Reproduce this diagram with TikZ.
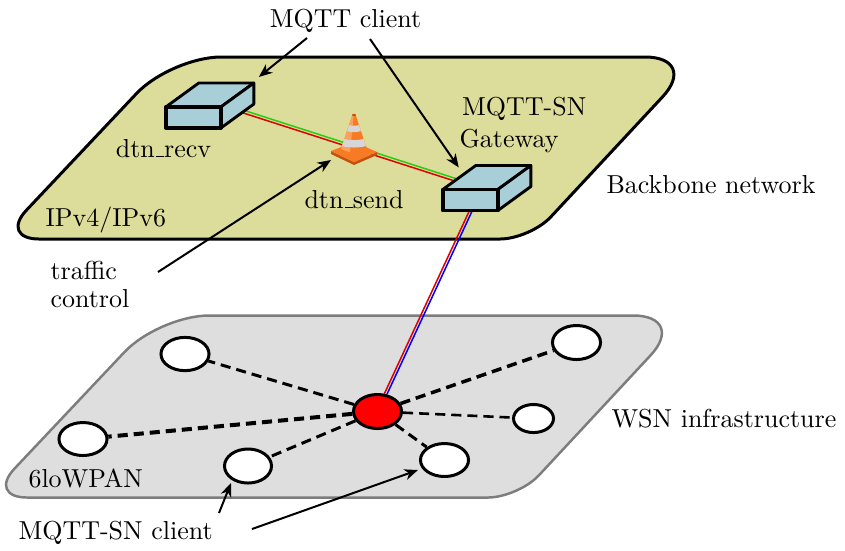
\documentclass[tikz,border=0pt]{standalone}
\usetikzlibrary{arrows.meta,calc,shapes.geometric}

\definecolor{backbone}{RGB}{221,221,155}
\definecolor{boxblue}{RGB}{168,206,215}
\definecolor{wsngray}{RGB}{222,222,222}
\definecolor{wsnedge}{RGB}{125,125,125}
\definecolor{linkgreen}{RGB}{40,205,20}
\definecolor{linkred}{RGB}{225,0,0}
\definecolor{linkblue}{RGB}{0,0,255}
\definecolor{coneorange}{RGB}{247,122,36}
\definecolor{conedark}{RGB}{196,82,14}
\definecolor{conelight}{RGB}{252,160,90}
\definecolor{conestripe}{RGB}{214,214,214}

% classic low-rule underscore
\newcommand\lowbar{\leavevmode\kern.06em\vbox{\hrule width.3em}}

% outline of a slanted network plane with rounded corners
\newcommand\planeoutline{%
  (39,239) .. controls (17,239) and (11.4,226) .. (26.6,210)
  -- (136.6,93.4) .. controls (155.5,73.4) and (193.5,57) .. (221,57)
  -- (645,57) .. controls (675.25,57) and (683,75) .. (662.3,97.1)
  -- (550.6,217.1) .. controls (539.3,229.1) and (516.5,239) .. (500,239)
  -- cycle}

\begin{document}
\begin{tikzpicture}[x=0.385pt,y=-0.385pt,
  devspace/.style={inner sep=0pt, minimum width=20.8pt, minimum height=7.7pt},
  face/.style={draw, fill=boxblue, line width=1.1pt, line join=round},
  sensor/.style={ellipse, draw, fill=white, line width=1.15pt, inner sep=0pt},
  radio/.style={line width=#1, dash pattern=on 3.9pt off 2.3pt},
  callout/.style={line width=0.77pt, -{Stealth[length=5.2pt,width=4.2pt,inset=1.6pt]}},
  txt/.style={inner sep=0pt}
]
\useasboundingbox (0,0) rectangle (845,550);

% the two network planes
\draw[fill=backbone, line width=1.15pt, line join=round] \planeoutline;
\begin{scope}[shift={(-12,258.5)}]
  \draw[fill=wsngray, draw=wsnedge, line width=0.95pt, line join=round] \planeoutline;
\end{scope}

% front faces of the two hosts (geometry only, drawn later)
\node[devspace] (recv) at (193.3,117.5) {};
\node[devspace] (gw)   at (470.3,200) {};

% sensor nodes of the 6loWPAN
\node[sensor, fill=red, minimum width=18.5pt, minimum height=13.1pt] (hub) at (377.5,411.5) {};
\node[sensor, minimum width=18.5pt, minimum height=12.8pt] (sa) at (185,354) {};
\node[sensor, minimum width=18.5pt, minimum height=12.7pt] (sb) at (83,439) {};
\node[sensor, minimum width=18.1pt, minimum height=13.1pt] (sc) at (248,466) {};
\node[sensor, minimum width=18.5pt, minimum height=13.1pt] (sd) at (576.5,342.5) {};
\node[sensor, minimum width=15.4pt, minimum height=10.8pt] (se) at (533.5,418.5) {};
\node[sensor, minimum width=18.5pt, minimum height=12.7pt] (sf) at (444.5,460) {};

% radio links
\draw[radio=1.15pt] (hub) -- (sa);
\draw[radio=1.55pt] (hub) -- (sb);
\draw[radio=1.15pt] (hub) -- (sc);
\draw[radio=1.35pt] (hub) -- (sd);
\draw[radio=1.0pt]  (hub) -- (se);
\draw[radio=1.15pt] (hub) -- (sf);

% link between dtn_recv and the gateway
\coordinate (recvport) at ($(recv.east)+(17.7,-7.5)$);
\coordinate (gwport)   at ($(gw.north west)+(18.7,-7.7)$);
\draw[linkgreen, line width=0.58pt, transform canvas={yshift=0.55pt}] (recvport) -- (gwport);
\draw[linkred,   line width=0.58pt, transform canvas={yshift=-0.55pt}] (recvport) -- (gwport);

% uplink from the gateway to the border router
\coordinate (gwdown) at ($(gw.south)+(2,-3)$);
\draw[linkred,  line width=0.58pt, transform canvas={xshift=-0.55pt}] (gwdown) -- (hub);
\draw[linkblue, line width=0.58pt, transform canvas={xshift=0.55pt}]  (gwdown) -- (hub);

% host boxes
\foreach \b in {recv,gw}{
  \draw[face] (\b.north west) -- ++(33,-24) -- ($(\b.north east)+(33,-24)$) -- (\b.north east) -- cycle;
  \draw[face] (\b.north east) -- ++(33,-24) -- ($(\b.south east)+(33,-24)$) -- (\b.south east) -- cycle;
  \draw[face, line width=1.35pt] (\b.south west) rectangle (\b.north east);
}

% traffic cone on the link
\begin{scope}[shift={(354,152)}]
  \fill[conedark] (-23,-1) -- (0,10) -- (23,0) -- (23,3) -- (0,13) -- (-23,2) -- cycle;
  \fill[coneorange] (-23,-1) -- (0,-10) -- (23,0) -- (0,10) -- cycle;
  \fill[coneorange] (-1.6,-37) -- (1.6,-37) -- (13,-3) .. controls (8,1) and (-8,1) .. (-13,-3) -- cycle;
  \fill[conelight] (-1.6,-37) -- (-0.2,-37) -- (-4,0) .. controls (-7,-0.5) and (-10,-1.5) .. (-13,-3) -- cycle;
  \fill[conestripe] (-4.9,-27) .. controls (-2,-26) and (2,-26) .. (4.9,-27) -- (6.9,-21)
     .. controls (3,-19.5) and (-3,-19.5) .. (-6.9,-21) -- cycle;
  \fill[conestripe] (-9.6,-13) .. controls (-4,-11.5) and (4,-11.5) .. (9.6,-13) -- (12,-6)
     .. controls (5,-4) and (-5,-4) .. (-12,-6) -- cycle;
  \fill[conedark] (0,-37) ellipse [x radius=2, y radius=1.2];
\end{scope}
\coordinate (cone) at (331,160);

% labels
\node[txt, anchor=base] (mqttc) at (345.5,27) {MQTT client};
\node[txt, anchor=base] (recvlbl) at (163.5,157) {dtn\lowbar recv};
\node[txt, anchor=base] (sendlbl) at (354,208) {dtn\lowbar send};
\node[txt, anchor=base west, align=left] (gwlbl) at (459,147) {\hspace{1pt}MQTT-SN\\Gateway};
\node[txt, anchor=base west] (bblbl) at (606,193) {Backbone network};
\node[txt, anchor=base west] (iplbl) at (45,226) {IPv4/IPv6};
\node[txt, anchor=base west, align=left] (tclbl) at (50,307) {traffic\\[-1.4pt]control};
\node[txt, anchor=base west] (lolbl) at (28,487) {6loWPAN};
\node[txt, anchor=base west] (wsnlbl) at (611,427) {WSN infrastructure};
\node[txt, anchor=base west] (snlbl) at (18,539) {MQTT-SN client};

% call-out arrows
\coordinate (c1from) at (307,38);
\coordinate (c1to)   at ($(recv.north east)+(38,-30)$);
\coordinate (c2from) at (370,39);
\coordinate (c2to)   at ($(gw.north west)+(16,-22)$);
\coordinate (tcfrom) at (158,272);
\coordinate (scfrom) at (219,513);
\coordinate (scto)   at (231,483);
\coordinate (sffrom) at (252,529);
\coordinate (sfto)   at (418,470);
\draw[callout] (c1from) -- (c1to);
\draw[callout] (c2from) -- (c2to);
\draw[callout] (tcfrom) -- (cone);
\draw[callout] (scfrom) -- (scto);
\draw[callout] (sffrom) -- (sfto);
\end{tikzpicture}
\end{document}
